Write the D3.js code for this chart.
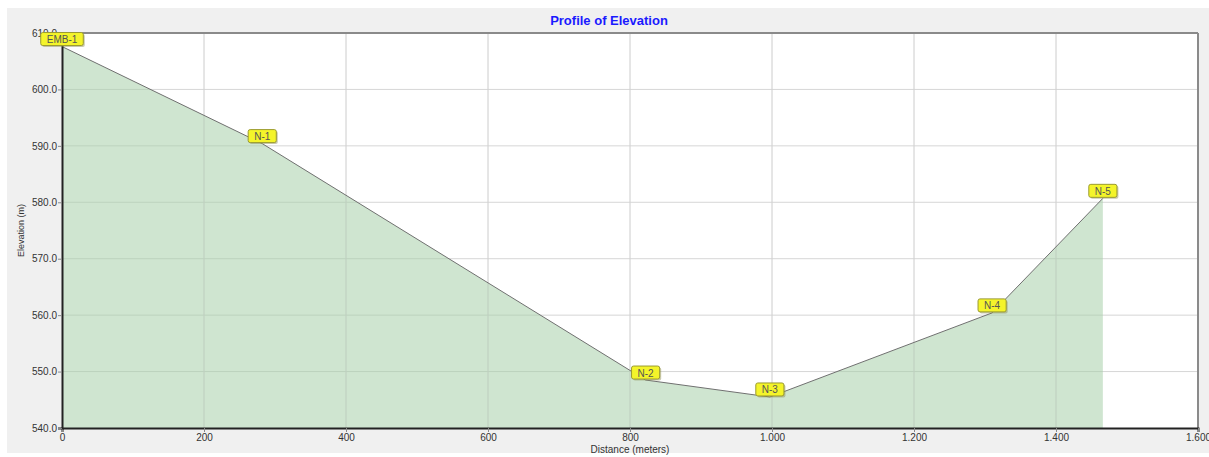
<!DOCTYPE html>
<html>
<head>
<meta charset="utf-8">
<script src="https://cdn.jsdelivr.net/npm/d3@7"></script>
<style>
  html, body { margin: 0; padding: 0; background: #ffffff; }
  svg { display: block; }
  text { font-family: "Liberation Sans", Arial, sans-serif; }
</style>
</head>
<body>
<svg id="chart" width="1209" height="457"></svg>
<script>
// Profile nodes along the pipe route
const nodeNames = ["EMB-1", "N-1", "N-2", "N-3", "N-4", "N-5"];
const distances = [0, 282, 822, 997, 1310, 1466];        // meters
const elevations = [607.6, 590.4, 548.5, 545.5, 560.4, 580.7]; // m

const xTicks = [0, 200, 400, 600, 800, 1000, 1200, 1400, 1600];
const yTicks = [540, 550, 560, 570, 580, 590, 600, 610];

const svg = d3.select("#chart");
const W = 1209, H = 457;
const margin = { left: 62, right: 11, top: 33, bottom: 29 };
const plotW = W - margin.left - margin.right;
const plotH = H - margin.top - margin.bottom;

// panel background
svg.append("rect").attr("x", 7).attr("y", 8).attr("width", W - 7).attr("height", 445)
  .attr("fill", "#f0f0f0");

const x = d3.scaleLinear().domain([0, 1600]).range([0, plotW]);
const y = d3.scaleLinear().domain([540, 610]).range([plotH, 0]);

const g = svg.append("g").attr("transform", `translate(${margin.left},${margin.top})`);

g.append("rect").attr("width", plotW).attr("height", plotH).attr("fill", "#ffffff");

// grid
g.append("g").selectAll("line").data(xTicks.slice(1, -1)).join("line")
  .attr("x1", d => x(d)).attr("x2", d => x(d)).attr("y1", 0).attr("y2", plotH)
  .attr("stroke", "#d6d6d6").attr("stroke-width", 1);
g.append("g").selectAll("line").data(yTicks.slice(1, -1)).join("line")
  .attr("y1", d => y(d)).attr("y2", d => y(d)).attr("x1", 0).attr("x2", plotW)
  .attr("stroke", "#d6d6d6").attr("stroke-width", 1);

const pts = distances.map((d, i) => ({ d, e: elevations[i], name: nodeNames[i] }));

// filled profile
const area = d3.area().x(p => x(p.d)).y0(plotH).y1(p => y(p.e));
g.append("path").datum(pts).attr("d", area)
  .attr("fill", "#a7d0a9").attr("fill-opacity", 0.55);

// grid over fill is faint; redraw vertical lines lightly
g.append("g").selectAll("line").data(xTicks.slice(1, -1)).join("line")
  .attr("x1", d => x(d)).attr("x2", d => x(d)).attr("y1", 0).attr("y2", plotH)
  .attr("stroke", "#c8c8c8").attr("stroke-opacity", 0.3);

const line = d3.line().x(p => x(p.d)).y(p => y(p.e));
g.append("path").datum(pts).attr("d", line)
  .attr("fill", "none").attr("stroke", "#707070").attr("stroke-width", 1);

// frame: top and right in gray, axes in dark
g.append("line").attr("x1", 0).attr("x2", plotW).attr("y1", 0).attr("y2", 0)
  .attr("stroke", "#8a8a8a").attr("stroke-width", 2);
g.append("line").attr("x1", plotW).attr("x2", plotW).attr("y1", 0).attr("y2", plotH)
  .attr("stroke", "#8a8a8a").attr("stroke-width", 2);

const fmtX = d => d3.format(",")(d).replace(/,/g, ".");
const xAxis = d3.axisBottom(x).tickValues(xTicks).tickFormat(fmtX).tickSize(4).tickPadding(2);
const yAxis = d3.axisLeft(y).tickValues(yTicks).tickFormat(d3.format(".1f")).tickSize(4).tickPadding(1);

const gx = g.append("g").attr("transform", `translate(0,${plotH})`).call(xAxis);
const gy = g.append("g").call(yAxis);
[gx, gy].forEach(a => {
  a.select(".domain").attr("stroke", "#222").attr("stroke-width", 2);
  a.selectAll(".tick line").attr("stroke", "#888");
  a.selectAll(".tick text").attr("fill", "#333").attr("font-size", 10)
    .attr("font-family", "'Liberation Sans', Arial, sans-serif");
});

// node labels
const labels = g.append("g").selectAll("g").data(pts).join("g")
  .attr("transform", p => `translate(${x(p.d)},${y(p.e)})`);
labels.each(function (p) {
  const sel = d3.select(this);
  const t = sel.append("text").text(p.name).attr("font-size", 10).attr("fill", "#555")
    .attr("text-anchor", "middle").attr("y", -3.5);
  const w = t.node().getComputedTextLength() + 12;
  sel.insert("rect", "text").attr("x", -w / 2 + 1.5).attr("y", -12.5).attr("width", w).attr("height", 13)
    .attr("rx", 2).attr("fill", "#8a8a50").attr("opacity", 0.45);
  sel.insert("rect", "text").attr("x", -w / 2).attr("y", -14).attr("width", w).attr("height", 13)
    .attr("rx", 2).attr("fill", "#f4f42a").attr("stroke", "#9a9a30").attr("stroke-width", 1);
});

// titles
svg.append("text").attr("x", 609).attr("y", 25).attr("text-anchor", "middle")
  .attr("font-size", 13).attr("font-weight", "bold").attr("fill", "#1a1aff")
  .text("Profile of Elevation");
svg.append("text").attr("x", margin.left + x(800)).attr("y", 453).attr("text-anchor", "middle")
  .attr("font-size", 10).attr("fill", "#333").text("Distance (meters)");
svg.append("text").attr("transform", `translate(24,${margin.top + plotH / 2}) rotate(-90)`)
  .attr("text-anchor", "middle").attr("font-size", 9).attr("fill", "#333").text("Elevation (m)");
</script>
</body>
</html>
